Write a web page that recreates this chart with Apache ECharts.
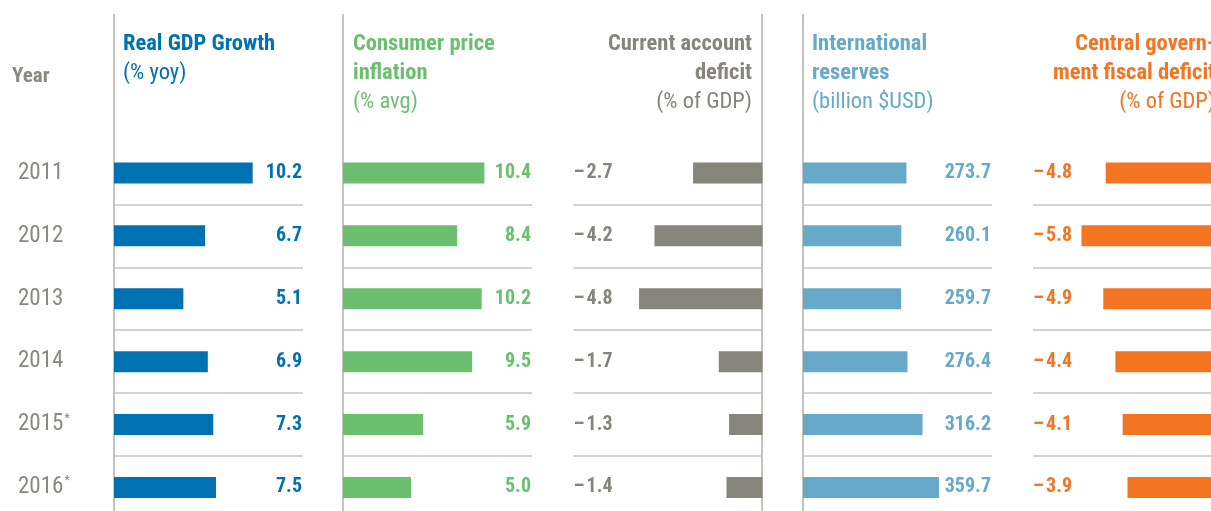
<!DOCTYPE html>
<html><head><meta charset="utf-8">
<script src="https://cdn.jsdelivr.net/npm/echarts@6/dist/echarts.min.js"></script>
<style>html,body{margin:0;padding:0;background:#fff}#c{width:1211px;height:511px}</style>
</head><body><div id="c"></div>
<script>
// ---- data ----
const years = ['2011', '2012', '2013', '2014', '2015', '2016'];
const estimated = [false, false, false, false, true, true];
const gdpGrowth = [10.2, 6.7, 5.1, 6.9, 7.3, 7.5];
const inflation = [10.4, 8.4, 10.2, 9.5, 5.9, 5.0];
const currentAccount = [-2.7, -4.2, -4.8, -1.7, -1.3, -1.4];
const reserves = [273.7, 260.1, 259.7, 276.4, 316.2, 359.7];
const fiscalDeficit = [-4.8, -5.8, -4.9, -4.4, -4.1, -3.9];

// ---- style ----
const FONT = "'Liberation Sans Narrow', 'Roboto Condensed', 'DejaVu Sans Condensed', Roboto, sans-serif";
const BLUE = '#0071b2', GREEN = '#6bbf6f', GREYBAR = '#86857b', LBLUE = '#67a9c8', ORANGE = '#f37421';
const TXTGREY = '#8a897f', VLINE = '#b0b0a8', SEP = '#c6c6be';

const panels = [
  { data: gdpGrowth, color: BLUE, left: 114, min: 0, max: 13.9, labelPos: 'right' },
  { data: inflation, color: GREEN, left: 343, min: 0, max: 13.9, labelPos: 'right' },
  { data: currentAccount, color: GREYBAR, left: 573.5, min: -7.35, max: 0, labelPos: 'left' },
  { data: reserves, color: LBLUE, left: 803, min: 0, max: 500, labelPos: 'right' },
  { data: fiscalDeficit, color: ORANGE, left: 1033, min: -7.8, max: 0, labelPos: 'left' }
];

function fmt(v) {
  return v < 0 ? '\u2013\u200A' + Math.abs(v).toFixed(1) : v.toFixed(1);
}

const grid = [], xAxis = [], yAxis = [], series = [];
panels.forEach((p, i) => {
  grid.push({ left: p.left, width: 189, top: 141.5, height: 377.4, containLabel: false, outerBoundsMode: 'none' });
  xAxis.push({ type: 'value', gridIndex: i, min: p.min, max: p.max, show: false });
  const mainPos = p.labelPos === 'right' ? 'left' : 'right';
  yAxis.push({
    type: 'category', gridIndex: i, data: years, inverse: true, position: mainPos,
    axisLine: { show: false }, axisTick: { show: false },
    splitLine: { show: true, showMinLine: false, showMaxLine: false, lineStyle: { color: SEP, width: 1.5 } },
    axisLabel: i === 0 ? {
      show: true, align: 'left', margin: 96,
      formatter: (v, idx) => estimated[idx] ? '{y|' + v + '}{s|*}' : '{y|' + v + '}',
      rich: {
        y: { fontFamily: FONT, fontSize: 23, color: TXTGREY },
        s: { fontFamily: FONT, fontSize: 12, color: TXTGREY, padding: [0, 0, 12, 1] }
      }
    } : { show: false }
  });
  yAxis.push({
    type: 'category', gridIndex: i, data: years, inverse: true, position: p.labelPos,
    axisLine: { show: false }, axisTick: { show: false }, splitLine: { show: false },
    axisLabel: {
      show: true, inside: true, margin: p.labelPos === 'right' ? 1 : 0,
      formatter: (v, idx) => fmt(p.data[idx]),
      fontFamily: FONT, fontSize: 20, fontWeight: 'bold', color: p.color,
      padding: [3, 0, 0, 0]
    }
  });
  series.push({
    type: 'bar', xAxisIndex: i, yAxisIndex: 2 * i, data: p.data, barWidth: 21,
    itemStyle: { color: p.color }, silent: true
  });
});

function header(x, align, color, bold, normal) {
  const parts = bold.map(t => '{b|' + t + '}').concat(['{r|' + normal + '}']);
  return {
    type: 'text', x: x, y: 29.5, silent: true,
    style: {
      text: parts.join('\n'), align: align, verticalAlign: 'top',
      rich: {
        b: { fontFamily: FONT, fontSize: 22.5, fontWeight: 'bold', fill: color, lineHeight: 29, align: align },
        r: { fontFamily: FONT, fontSize: 22.5, fontWeight: 'normal', fill: color, lineHeight: 29, align: align }
      }
    }
  };
}
function vline(x) {
  return { type: 'line', silent: true, shape: { x1: x, y1: 14, x2: x, y2: 511 }, style: { stroke: VLINE, lineWidth: 1.5 } };
}

const graphic = [
  vline(114), vline(343), vline(762), vline(803),
  { type: 'text', x: 12, y: 77, silent: true,
    style: { text: 'Year', fontFamily: FONT, fontSize: 21, fontWeight: 'bold', fill: TXTGREY, align: 'left', verticalAlign: 'middle' } },
  header(123, 'left', BLUE, ['Real GDP Growth'], '(% yoy)'),
  header(353, 'left', GREEN, ['Consumer price', 'inflation'], '(% avg)'),
  header(752, 'right', GREYBAR, ['Current account', 'deficit'], '(% of GDP)'),
  header(812, 'left', LBLUE, ['International', 'reserves'], '(billion $USD)'),
  header(1215, 'right', ORANGE, ['Central govern-', 'ment fiscal deficit'], '(% of GDP)')
];

const chart = echarts.init(document.getElementById('c'), null, { renderer: 'canvas' });
chart.setOption({
  animation: false,
  backgroundColor: '#ffffff',
  grid, xAxis, yAxis, series, graphic
});
</script>
</body></html>
